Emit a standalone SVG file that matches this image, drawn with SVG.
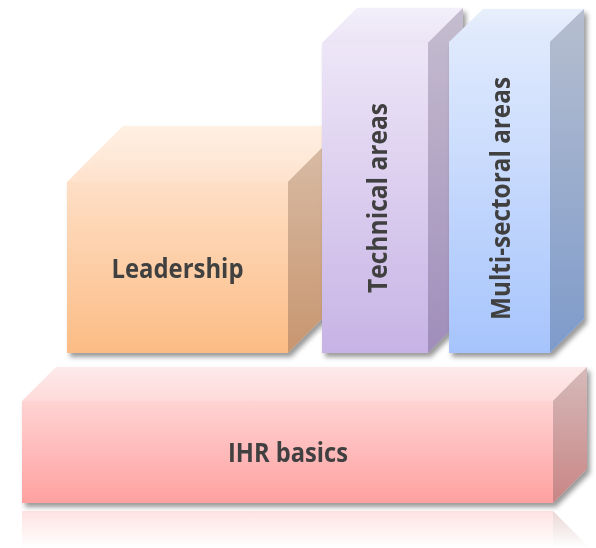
<svg xmlns="http://www.w3.org/2000/svg" width="596" height="548" viewBox="0 0 596 548">
<defs>
  <filter id="sh" x="-10%" y="-10%" width="130%" height="130%">
    <feDropShadow dx="3" dy="4" stdDeviation="2.5" flood-color="#000" flood-opacity="0.4"/>
  </filter>
  <linearGradient id="ihrF" x1="0" y1="0" x2="0" y2="1"><stop offset="0" stop-color="#ffd3d3"/><stop offset="1" stop-color="#ffa0a0"/></linearGradient>
  <linearGradient id="ihrT" x1="0" y1="0" x2="0" y2="1"><stop offset="0" stop-color="#fdeaea"/><stop offset="1" stop-color="#ffdada"/></linearGradient>
  <linearGradient id="ihrS" x1="0" y1="0" x2="0" y2="1"><stop offset="0" stop-color="#d6baba"/><stop offset="1" stop-color="#c98585"/></linearGradient>
  <linearGradient id="ihrR" x1="0" y1="0" x2="0" y2="1"><stop offset="0" stop-color="#ffe2e2"/><stop offset="1" stop-color="#ffffff"/></linearGradient>
  <linearGradient id="ihrRS" x1="0" y1="0" x2="0" y2="1"><stop offset="0" stop-color="#ead6d6"/><stop offset="1" stop-color="#ffffff"/></linearGradient>
  <linearGradient id="ldF" x1="0" y1="0" x2="0" y2="1"><stop offset="0" stop-color="#fedfc6"/><stop offset="1" stop-color="#fcbc85"/></linearGradient>
  <linearGradient id="ldT" x1="0" y1="0" x2="0" y2="1"><stop offset="0" stop-color="#fff0e4"/><stop offset="1" stop-color="#fee2cc"/></linearGradient>
  <linearGradient id="ldS" x1="0" y1="0" x2="0" y2="1"><stop offset="0" stop-color="#d9bea9"/><stop offset="1" stop-color="#c8966f"/></linearGradient>
  <linearGradient id="tcF" x1="0" y1="0" x2="0" y2="1"><stop offset="0" stop-color="#ede6f7"/><stop offset="1" stop-color="#c7b3e5"/></linearGradient>
  <linearGradient id="tcT" x1="0" y1="0" x2="0" y2="1"><stop offset="0" stop-color="#f3effa"/><stop offset="1" stop-color="#ebe4f6"/></linearGradient>
  <linearGradient id="tcS" x1="0" y1="0" x2="0" y2="1"><stop offset="0" stop-color="#c5bdcf"/><stop offset="1" stop-color="#a08dbb"/></linearGradient>
  <linearGradient id="msF" x1="0" y1="0" x2="0" y2="1"><stop offset="0" stop-color="#dfe9fd"/><stop offset="1" stop-color="#a6c4fc"/></linearGradient>
  <linearGradient id="msT" x1="0" y1="0" x2="0" y2="1"><stop offset="0" stop-color="#e8effc"/><stop offset="1" stop-color="#dde8fc"/></linearGradient>
  <linearGradient id="msS" x1="0" y1="0" x2="0" y2="1"><stop offset="0" stop-color="#b6becf"/><stop offset="1" stop-color="#7e9bcb"/></linearGradient>
</defs>
<style>
  .lbl { font-family: "Open Sans", "Noto Sans", "Liberation Sans", sans-serif; font-weight: 700; font-size: 26px; fill: #404040; text-anchor: middle; }
</style>

<g id="ihr-reflection">
  <rect x="22" y="511" width="531" height="37" fill="url(#ihrR)"/>
  <polygon points="553,511 587,545 587,548 553,548" fill="url(#ihrRS)"/>
</g>

<g id="ihr-basics" filter="url(#sh)">
  <polygon points="22,401 56,367 587,367 553,401" fill="url(#ihrT)"/>
  <polygon points="553,401 587,367 587,469 553,503" fill="url(#ihrS)"/>
  <rect x="22" y="401" width="531" height="102" fill="url(#ihrF)"/>
  <text class="lbl" x="288" y="461.5" textLength="120" lengthAdjust="spacingAndGlyphs">IHR basics</text>
</g>

<g id="leadership" filter="url(#sh)">
  <polygon points="67,182 123,126 344,126 288,182" fill="url(#ldT)"/>
  <polygon points="288,182 344,126 344,297 288,353" fill="url(#ldS)"/>
  <rect x="67" y="182" width="221" height="171" fill="url(#ldF)"/>
  <text class="lbl" x="177.5" y="278" textLength="132" lengthAdjust="spacingAndGlyphs">Leadership</text>
</g>

<g id="technical-areas" filter="url(#sh)">
  <polygon points="322,43 357,8 463,8 428,43" fill="url(#tcT)"/>
  <polygon points="428,43 463,8 463,318 428,353" fill="url(#tcS)"/>
  <rect x="322" y="43" width="106" height="310" fill="url(#tcF)"/>
  <text class="lbl" transform="translate(377.5,198) rotate(-90)" x="0" y="9.5" textLength="190" lengthAdjust="spacingAndGlyphs">Technical areas</text>
</g>

<g id="multi-sectoral-areas" filter="url(#sh)">
  <polygon points="449,42 483,9 584,9 550,42" fill="url(#msT)"/>
  <polygon points="550,42 584,9 584,319 550,353" fill="url(#msS)"/>
  <rect x="449" y="42" width="101" height="311" fill="url(#msF)"/>
  <text class="lbl" transform="translate(500.5,198.5) rotate(-90)" x="0" y="9.5" textLength="243" lengthAdjust="spacingAndGlyphs">Multi-sectoral areas</text>
</g>

<g id="connectors"></g>
</svg>
